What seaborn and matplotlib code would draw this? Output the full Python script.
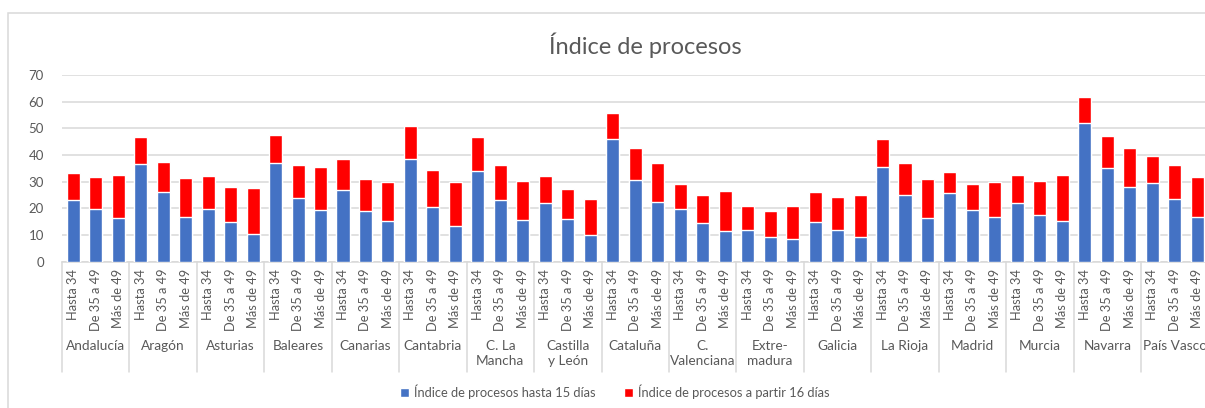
import matplotlib
matplotlib.use("Agg")
import matplotlib.pyplot as plt
import matplotlib.transforms as mtransforms
from matplotlib.patches import Rectangle
import seaborn as sns
import pandas as pd

regions = ["Andalucía", "Aragón", "Asturias", "Baleares", "Canarias", "Cantabria",
           "C. La\nMancha", "Castilla\ny León", "Cataluña", "C.\nValenciana",
           "Extre-\nmadura", "Galicia", "La Rioja", "Madrid", "Murcia", "Navarra",
           "País Vasco"]
ages = ["Hasta 34", "De 35 a 49", "Más de 49"]

hasta15 = [23.1, 19.6, 16.4,
           36.6, 26.0, 16.8,
           19.6, 14.8, 10.5,
           37.0, 24.0, 19.3,
           27.0, 19.0, 15.1,
           38.5, 20.6, 13.5,
           34.0, 23.1, 15.5,
           21.9, 15.9, 10.1,
           45.9, 30.8, 22.3,
           19.8, 14.4, 11.4,
           11.8, 9.1, 8.4,
           14.8, 11.8, 9.1,
           35.4, 24.9, 16.4,
           25.6, 19.3, 16.8,
           21.9, 17.6, 15.1,
           51.9, 35.0, 27.9,
           29.5, 23.5, 16.8]

total = [33.1, 31.6, 32.4,
         46.8, 37.4, 31.5,
         32.0, 28.1, 27.8,
         47.5, 36.1, 35.4,
         38.4, 31.1, 29.8,
         50.9, 34.5, 29.8,
         46.6, 36.1, 30.3,
         32.0, 27.3, 23.5,
         55.6, 42.5, 36.9,
         29.0, 25.1, 26.4,
         21.0, 18.9, 21.0,
         26.0, 24.4, 24.9,
         45.9, 36.9, 31.1,
         33.6, 29.0, 29.8,
         32.4, 30.3, 32.4,
         61.9, 47.1, 42.5,
         39.5, 36.1, 31.9]

desde16 = [round(t - h, 1) for t, h in zip(total, hasta15)]

TXT = "#595959"
BLUE = "#4472C4"
RED = "#FF0000"

sns.set_theme(style="white")
plt.rcParams["font.family"] = ["Lato", "DejaVu Sans"]

keys = [f"{r}|{a}" for r in regions for a in ages]
df = pd.DataFrame({
    "key": keys,
    "hasta": hasta15,
    "desde": desde16,
})
df["total"] = df["hasta"] + df["desde"]

W, H = 1205, 408
fig = plt.figure(figsize=(W / 100, H / 100), dpi=100)
ax_left, ax_right = 62 / W, 1208.5 / W
ax_bot, ax_top = 1 - 261.7 / H, 1 - 75 / H
ax = fig.add_axes([ax_left, ax_bot, ax_right - ax_left, ax_top - ax_bot])

sns.barplot(data=df, x="key", y="total", order=keys, color=RED, width=0.58,
            saturation=1, ax=ax, label="Índice de procesos a partir 16 días", zorder=3)
sns.barplot(data=df, x="key", y="hasta", order=keys, color=BLUE, width=0.58,
            saturation=1, ax=ax, label="Índice de procesos hasta 15 días", zorder=3)
handles, labels = ax.get_legend_handles_labels()
if ax.get_legend() is not None:
    ax.get_legend().remove()

ax.set_ylim(0, 70)
ax.set_xlim(-0.5, len(keys) - 0.5)
ax.set_yticks(range(0, 71, 10))
ax.yaxis.grid(True, color="#d9d9d9", linewidth=1.1, zorder=0)
ax.set_axisbelow(True)
for s in ["top", "right", "left"]:
    ax.spines[s].set_visible(False)
ax.spines["bottom"].set_color("#d9d9d9")
ax.spines["bottom"].set_linewidth(1.1)
ax.set_xlabel("")
ax.set_ylabel("")
ax.set_xticks(range(len(keys)))
ax.set_xticklabels(ages * len(regions), rotation=90, fontsize=9.3, color=TXT,
                   va="top", ha="center")
ax.tick_params(axis="x", length=0, pad=5)
ax.tick_params(axis="y", length=0, pad=13, labelsize=9.5, labelcolor=TXT)

trans = mtransforms.blended_transform_factory(ax.transData, ax.transAxes)
axh = (ax_top - ax_bot) * H
sep_bottom = -(372 - 261.7) / axh
for g in range(len(regions) + 1):
    ax.plot([g * 3 - 0.5, g * 3 - 0.5], [0, sep_bottom], transform=trans,
            color="#d9d9d9", linewidth=1.1, clip_on=False)
lab_y = -(340 - 261.7) / axh
for g, r in enumerate(regions):
    ax.text(g * 3 + 1, lab_y, r, transform=trans, ha="center", va="top",
            fontsize=9.8, color=TXT, linespacing=1.3)

fig.text(645 / W, 1 - 45 / H, "Índice de procesos", ha="center", va="center",
         fontsize=17, color=TXT)

order = [labels.index("Índice de procesos hasta 15 días"),
         labels.index("Índice de procesos a partir 16 días")]
leg = fig.legend([handles[i] for i in order], [labels[i] for i in order],
                 loc="center", bbox_to_anchor=(615 / W, 1 - 392 / H), ncol=2,
                 frameon=False, fontsize=9.3, handlelength=0.7, handleheight=0.7,
                 handletextpad=0.4, columnspacing=2.2)
for t in leg.get_texts():
    t.set_color(TXT)

fig.patches.append(Rectangle((8 / W, -0.1), 1.2, 1.1 - 13 / H, transform=fig.transFigure,
                             fill=False, edgecolor="#d9d9d9", linewidth=1.1))

fig.savefig("out.png", dpi=100, facecolor="white")
